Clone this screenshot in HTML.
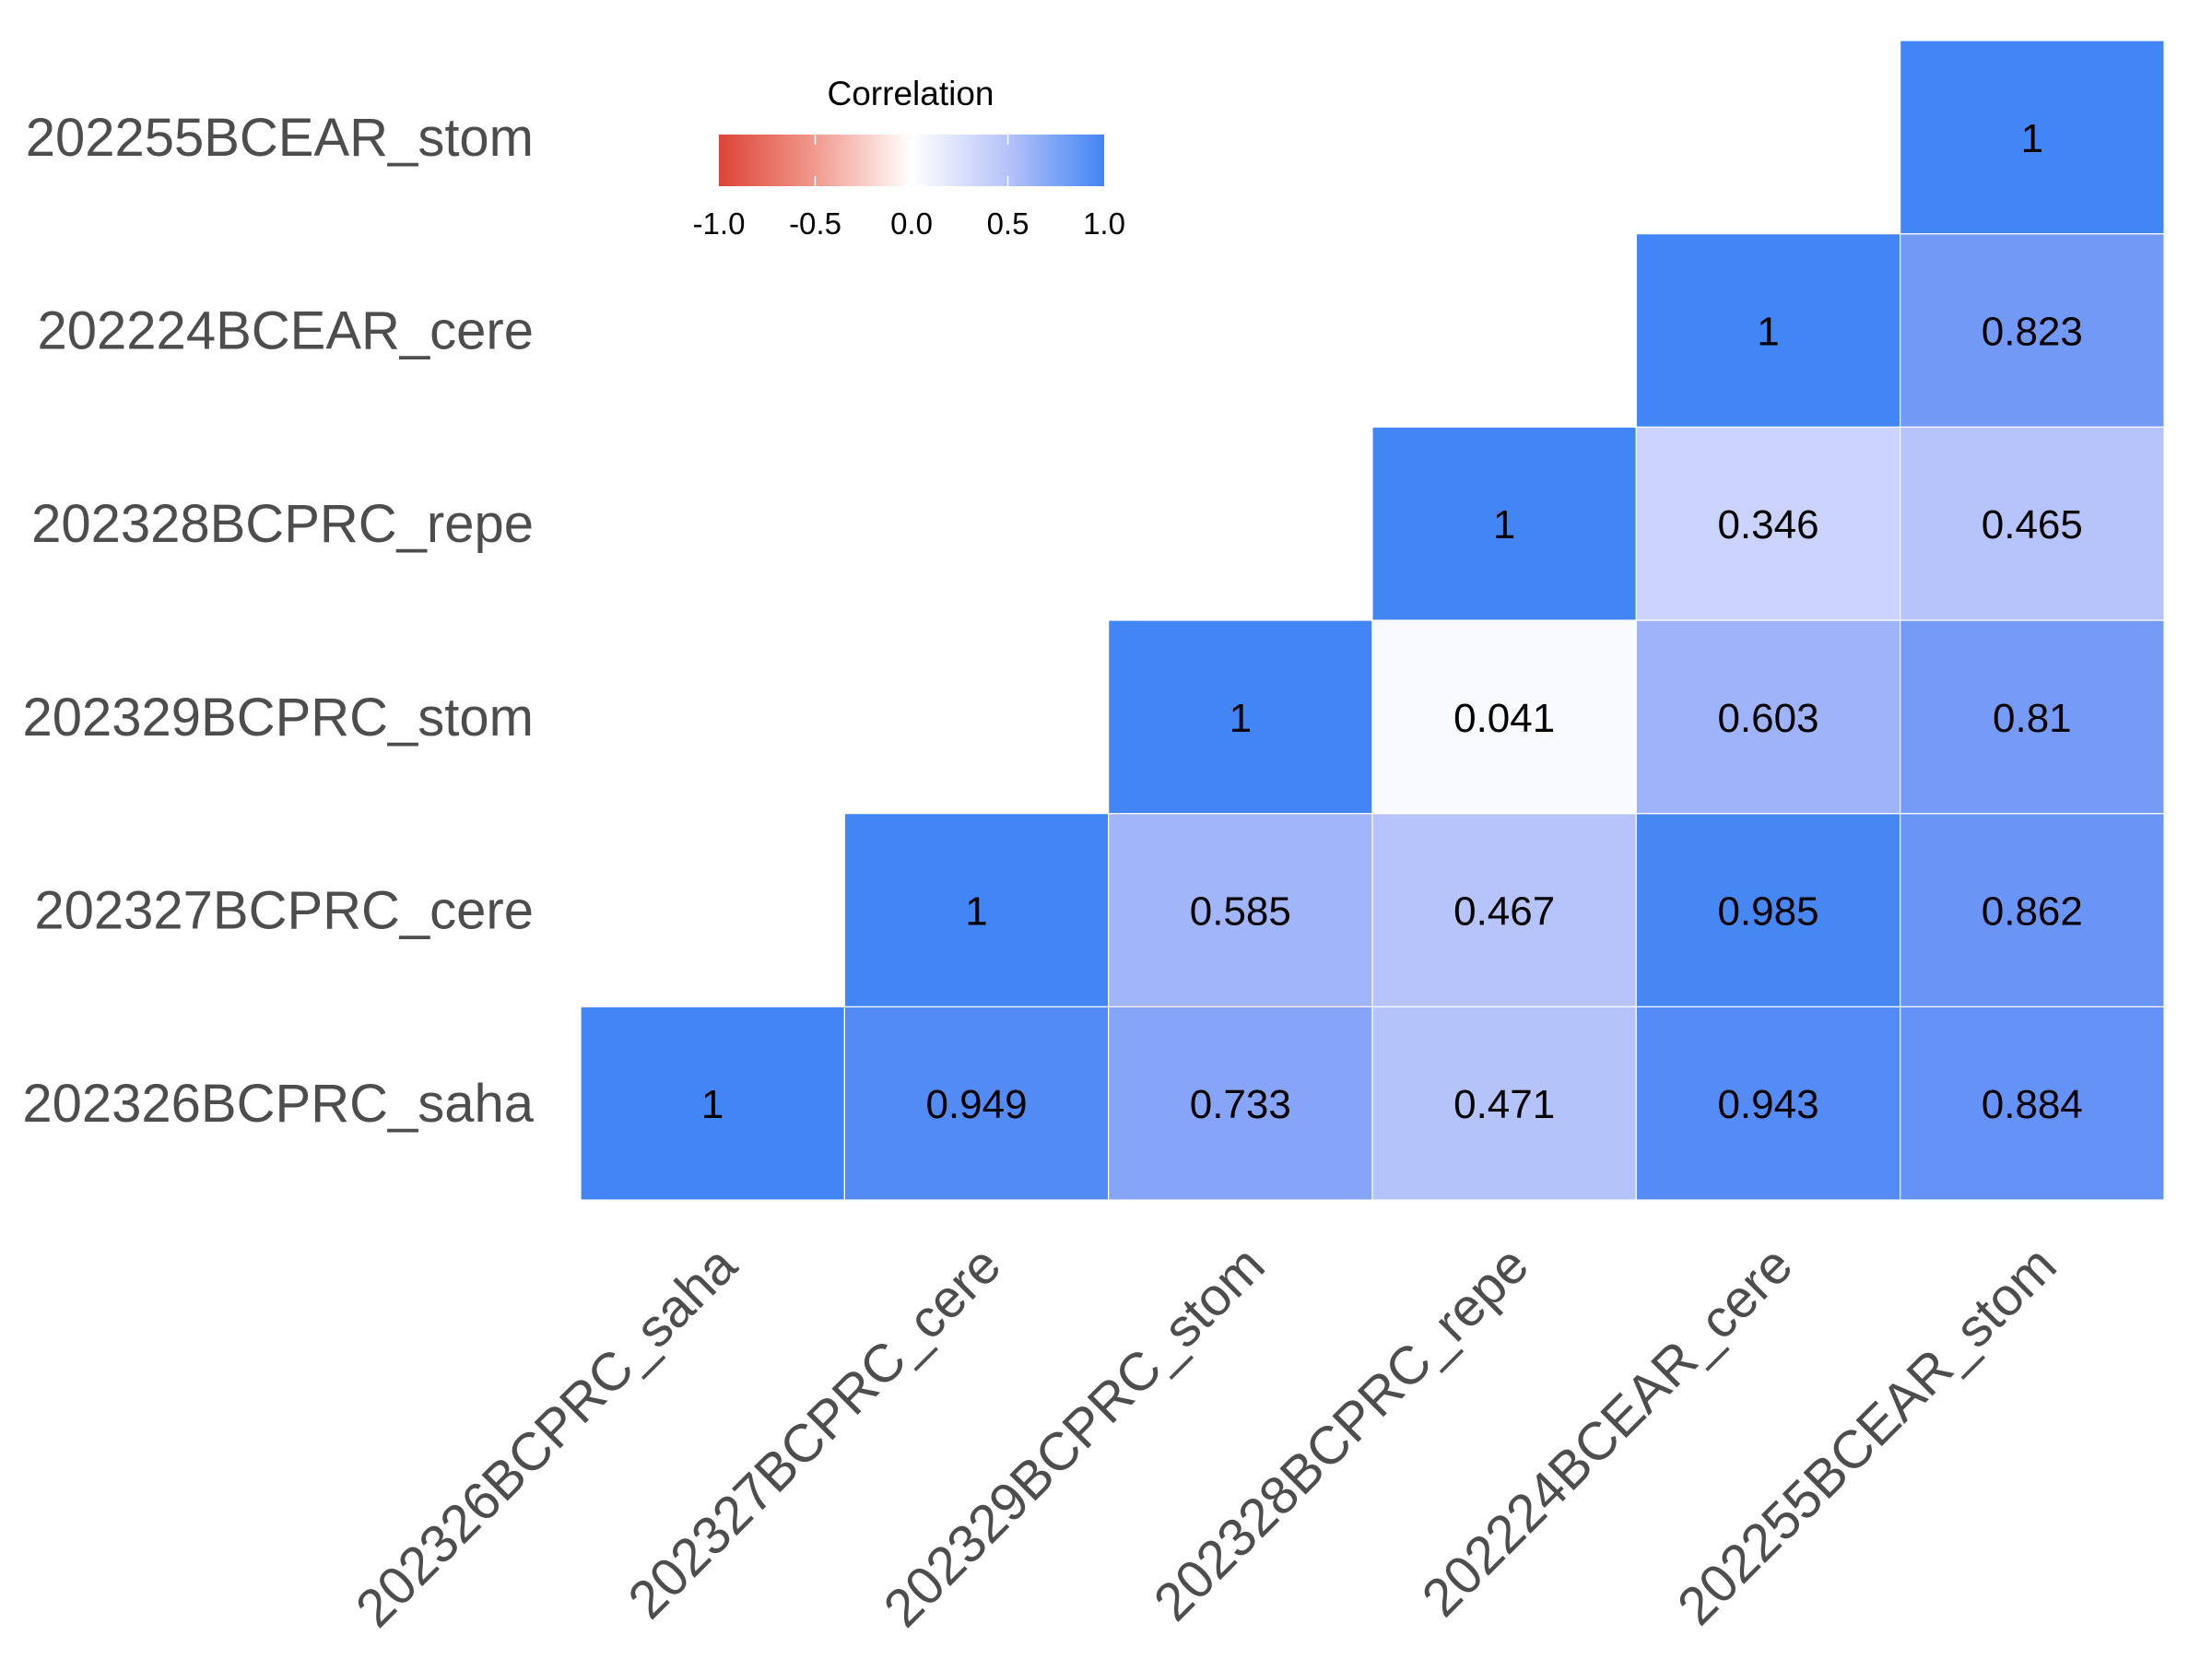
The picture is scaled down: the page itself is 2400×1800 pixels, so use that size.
<!DOCTYPE html>
<html><head><meta charset="utf-8"><style>
html,body{margin:0;padding:0;background:#fff;}
svg{display:block;font-family:"Liberation Sans",Arial,sans-serif;}
</style></head><body>
<svg id="chart" width="2400" height="1800" viewBox="0 0 2400 1800" xmlns="http://www.w3.org/2000/svg">
<defs>
<linearGradient id="grad" x1="0" x2="1" y1="0" y2="0">
<stop offset="0" stop-color="#dd4437"/>
<stop offset="0.25" stop-color="#f19a8e"/>
<stop offset="0.5" stop-color="#ffffff"/>
<stop offset="0.75" stop-color="#b6c3f9"/>
<stop offset="1" stop-color="#4285f4"/>
</linearGradient>
</defs>
<g id="cells"></g>
<g id="labels"></g>
<g id="legend">
<text x="988" y="114" font-size="37" text-anchor="middle" fill="#000">Correlation</text>
<rect x="780" y="146" width="418" height="56" fill="url(#grad)"/>
</g>
</svg>
<script>
const categories = ["202326BCPRC_saha","202327BCPRC_cere","202329BCPRC_stom","202328BCPRC_repe","202224BCEAR_cere","202255BCEAR_stom"];
const row_saha = [1, 0.949, 0.733, 0.471, 0.943, 0.884];
const row_cere327 = [null, 1, 0.585, 0.467, 0.985, 0.862];
const row_stom329 = [null, null, 1, 0.041, 0.603, 0.81];
const row_repe328 = [null, null, null, 1, 0.346, 0.465];
const row_cere224 = [null, null, null, null, 1, 0.823];
const row_stom255 = [null, null, null, null, null, 1];
const legendTicks = [-1.0, -0.5, 0.0, 0.5, 1.0];
const legendTickLabels = ["-1.0", "-0.5", "0.0", "0.5", "1.0"];

const rows = [row_saha, row_cere327, row_stom329, row_repe328, row_cere224, row_stom255];
const X0 = 630, X1 = 2348, Y0 = 44, Y1 = 1302;
const n = categories.length;
const cw = (X1 - X0) / n, ch = (Y1 - Y0) / n;
const xPos = j => X0 + j * cw;
const yPos = i => Y1 - (i + 1) * ch;
const LX0 = 780, LX1 = 1198;
const legendX = v => LX0 + (v + 1) / 2 * (LX1 - LX0);

function toLin(c){c/=255;return c<=0.04045?c/12.92:Math.pow((c+0.055)/1.055,2.4);}
function fromLin(c){const v=c<=0.0031308?12.92*c:1.055*Math.pow(c,1/2.4)-0.055;return Math.max(0,Math.min(255,Math.round(v*255)));}
function rgb2lab(rgb){
  const [r,g,b]=rgb.map(toLin);
  let X=(0.4124*r+0.3576*g+0.1805*b)/0.95047,Y=(0.2126*r+0.7152*g+0.0722*b),Z=(0.0193*r+0.1192*g+0.9505*b)/1.08883;
  const f=t=>t>0.008856?Math.cbrt(t):7.787*t+16/116;
  const fx=f(X),fy=f(Y),fz=f(Z);
  return [116*fy-16,500*(fx-fy),200*(fy-fz)];
}
function lab2rgb(l){
  const fy=(l[0]+16)/116,fx=fy+l[1]/500,fz=fy-l[2]/200;
  const fi=t=>t*t*t>0.008856?t*t*t:(t-16/116)/7.787;
  const X=fi(fx)*0.95047,Y=fi(fy),Z=fi(fz)*1.08883;
  const r=3.2406*X-1.5372*Y-0.4986*Z,g=-0.9689*X+1.8758*Y+0.0415*Z,b=0.0557*X-0.2040*Y+1.0570*Z;
  return [fromLin(r),fromLin(g),fromLin(b)];
}
function color(v){
  const w=rgb2lab([255,255,255]), c=rgb2lab(v<0?[221,68,55]:[66,133,244]);
  const t=Math.abs(v);
  const m=lab2rgb(w.map((a,k)=>a+(c[k]-a)*t));
  return `rgb(${m[0]},${m[1]},${m[2]})`;
}
const NS="http://www.w3.org/2000/svg";
const cells=document.getElementById('cells');
const labels=document.getElementById('labels');
rows.forEach((r,i)=>{
  r.forEach((v,j)=>{
    if(v===null) return;
    const rect=document.createElementNS(NS,'rect');
    
    
    rect.setAttribute('x',xPos(j));rect.setAttribute('y',yPos(i));
    rect.setAttribute('width',cw);rect.setAttribute('height',ch);
    rect.setAttribute('fill',color(v));
    rect.setAttribute('stroke','#ffffff');rect.setAttribute('stroke-width','1.2');
    cells.appendChild(rect);
    const t=document.createElementNS(NS,'text');
    
    
    t.setAttribute('x',xPos(j)+cw/2);t.setAttribute('y',yPos(i)+ch/2+16);
    t.setAttribute('text-anchor','middle');t.setAttribute('font-size','44');t.setAttribute('fill','#000');
    t.textContent=String(v);
    cells.appendChild(t);
  });
});
categories.forEach((c,i)=>{
  const t=document.createElementNS(NS,'text');
  
  
  t.setAttribute('x',579);t.setAttribute('y',yPos(i)+ch/2+20);
  t.setAttribute('text-anchor','end');t.setAttribute('font-size','58');t.setAttribute('fill','#4d4d4d');
  t.textContent=c;
  labels.appendChild(t);
  const x=document.createElementNS(NS,'text');
  
  
  const ax=xPos(i)+cw/2, ay=1347;
  x.setAttribute('transform',`translate(${ax},${ay}) rotate(-45)`);
  x.setAttribute('dy','0.72em');
  x.setAttribute('text-anchor','end');x.setAttribute('font-size','58');x.setAttribute('fill','#4d4d4d');
  x.textContent=c;
  labels.appendChild(x);
});
const legend=document.getElementById('legend');
legendTicks.forEach((v,k)=>{
  if(v>-1 && v<1){
    ['top','bottom'].forEach(p=>{
      const l=document.createElementNS(NS,'line');
      
      
      l.setAttribute('x1',legendX(v));l.setAttribute('x2',legendX(v));
      l.setAttribute('y1',p==='top'?146:191);l.setAttribute('y2',p==='top'?157:202);
      l.setAttribute('stroke','#ffffff');l.setAttribute('stroke-width','1.5');
      legend.appendChild(l);
    });
  }
  const t=document.createElementNS(NS,'text');
  
  
  t.setAttribute('x',legendX(v));t.setAttribute('y',254);
  t.setAttribute('text-anchor','middle');t.setAttribute('font-size','33');t.setAttribute('fill','#000');
  t.textContent=legendTickLabels[k];
  legend.appendChild(t);
});
</script>
</body></html>
